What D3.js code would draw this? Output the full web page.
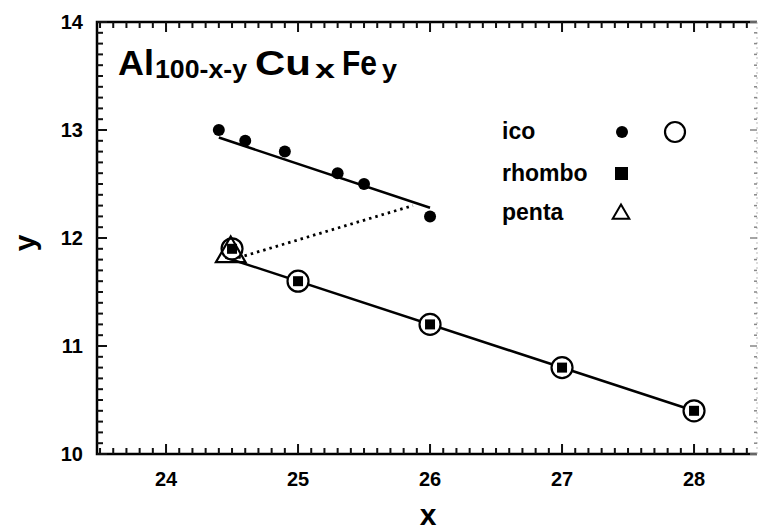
<!DOCTYPE html>
<html>
<head>
<meta charset="utf-8">
<script src="https://cdn.jsdelivr.net/npm/d3@7"></script>
<style>
  body { margin: 0; background: #fff; }
  text { font-family: "Liberation Sans", Arial, sans-serif; fill: #000; }
</style>
</head>
<body>
<script>
// data
const icoX = [24.4, 24.6, 24.9, 25.3, 25.5, 26.0];
const icoY = [13.0, 12.9, 12.8, 12.6, 12.5, 12.2];
const rhomboX = [24.5, 25, 26, 27, 28];
const rhomboY = [11.9, 11.6, 11.2, 10.8, 10.4];
const pentaX = [24.49];
const pentaY = [11.855];
const icoFit = [[24.4, 12.93], [26.0, 12.28]];
const lowerFit = [[24.45, 11.82], [28.0, 10.4]];
const linkLine = [[24.5, 11.8], [25.87, 12.3]];
const xTicks = [24, 25, 26, 27, 28];
const yTicks = [10, 11, 12, 13, 14];

const W = 759, H = 530;
const mLeft = 97, mRight = 757, mTop = 22, mBottom = 454;

const svg = d3.select("body").append("svg")
  .attr("width", W)
  .attr("height", H);

const x = d3.scaleLinear().domain([23.477, 28.477]).range([mLeft, mRight]);
const y = d3.scaleLinear().domain([10, 14]).range([mBottom, mTop]);

// minor ticks every 0.1
const xMinor = d3.range(235, 285).map(d => d / 10);
const yMinor = d3.range(100, 141).map(d => d / 10);
const isMajor = d => Math.abs(d - Math.round(d)) < 1e-6;
const tickLen = d => isMajor(d) ? 10 : 6;

// frame
svg.append("path")
  .attr("d", `M${mRight},${mTop}H${mLeft}V${mBottom}H${mRight}`)
  .attr("fill", "none").attr("stroke", "#000").attr("stroke-width", 2.5);

// right border, faint
svg.append("path")
  .attr("d", `M${mRight},${mTop}V${mBottom}`)
  .attr("stroke", "#bbb").attr("stroke-width", 1).attr("stroke-dasharray", "2 3");

// tick marks as small filled bars, inward on bottom, top and left
const tk = svg.append("g").attr("fill", "#111");
tk.selectAll(".tb").data(xMinor).join("rect").attr("class", "tb")
  .attr("x", d => x(d) - 1).attr("width", 2)
  .attr("y", d => mBottom - tickLen(d)).attr("height", d => tickLen(d));
tk.selectAll(".tt").data(xMinor).join("rect").attr("class", "tt")
  .attr("x", d => x(d) - 1).attr("width", 2)
  .attr("y", mTop).attr("height", d => tickLen(d));
tk.selectAll(".tl").data(yMinor).join("rect").attr("class", "tl")
  .attr("y", d => y(d) - 1).attr("height", 2)
  .attr("x", mLeft).attr("width", d => tickLen(d));
tk.selectAll(".tr").data(yMinor).join("rect").attr("class", "tr")
  .attr("y", d => y(d) - 0.75).attr("height", 1.5)
  .attr("x", d => mRight - (isMajor(d) ? 7 : 3)).attr("width", d => isMajor(d) ? 7 : 3)
  .attr("fill", "#888");

// tick labels
svg.append("g").selectAll("text").data(xTicks).join("text")
  .attr("x", d => x(d)).attr("y", mBottom + 32)
  .attr("text-anchor", "middle")
  .attr("font-size", 20).attr("font-weight", "bold")
  .text(d3.format("d"));
svg.append("g").selectAll("text").data(yTicks).join("text")
  .attr("x", mLeft - 14).attr("y", d => y(d))
  .attr("dy", "0.36em")
  .attr("text-anchor", "end")
  .attr("font-size", 20).attr("font-weight", "bold")
  .text(d3.format("d"));

// axis titles
svg.append("text")
  .attr("transform", `translate(24,243) rotate(-90)`)
  .attr("text-anchor", "middle").attr("dominant-baseline", "central")
  .attr("font-size", 30).attr("font-weight", "bold")
  .text("y");
svg.append("text")
  .attr("x", 428).attr("y", 525)
  .attr("text-anchor", "middle")
  .attr("font-size", 30).attr("font-weight", "bold")
  .text("x");

// formula title, each piece stretched to the width seen in the picture
const titleParts = [
  { t: "Al", x: 118, w: 36, big: true },
  { t: "100-x-y", x: 155, w: 92, big: false },
  { t: "Cu", x: 255, w: 56, big: true },
  { t: "x", x: 315, w: 20, big: false },
  { t: "Fe", x: 342, w: 35, big: true },
  { t: "y", x: 382, w: 15, big: false }
];
svg.append("g").selectAll("text")
  .data(titleParts)
  .join("text")
  .attr("x", d => d.x)
  .attr("y", d => d.big ? 75 : 78)
  .attr("font-size", d => d.big ? 35 : 25)
  .attr("font-weight", "bold")
  .attr("textLength", d => d.w)
  .attr("lengthAdjust", "spacingAndGlyphs")
  .text(d => d.t);

const line = d3.line().x(d => x(d[0])).y(d => y(d[1]));

// fitted lines
svg.append("path").attr("d", line(icoFit))
  .attr("fill", "none").attr("stroke", "#000").attr("stroke-width", 2.5);
svg.append("path").attr("d", line(lowerFit))
  .attr("fill", "none").attr("stroke", "#000").attr("stroke-width", 2.5);
svg.append("path").attr("d", line(linkLine))
  .attr("fill", "none").attr("stroke", "#000").attr("stroke-width", 2.8)
  .attr("stroke-dasharray", "2.5 4");

// ico filled dots
svg.append("g").selectAll("circle")
  .data(d3.zip(icoX, icoY))
  .join("circle")
  .attr("cx", d => x(d[0])).attr("cy", d => y(d[1]))
  .attr("r", 6).attr("fill", "#000");

// ico open circles around rhombo points
svg.append("g").selectAll("circle")
  .data(d3.zip(rhomboX, rhomboY))
  .join("circle")
  .attr("cx", d => x(d[0])).attr("cy", d => y(d[1]))
  .attr("r", 10.5).attr("fill", "#fff").attr("stroke", "#000").attr("stroke-width", 2.2);

// rhombo squares
svg.append("g").selectAll("rect")
  .data(d3.zip(rhomboX, rhomboY))
  .join("rect")
  .attr("x", d => x(d[0]) - 5).attr("y", d => y(d[1]) - 5)
  .attr("width", 10).attr("height", 10).attr("fill", "#000");

// penta triangle
svg.append("g").selectAll("path")
  .data(d3.zip(pentaX, pentaY))
  .join("path")
  .attr("transform", d => `translate(${x(d[0])},${y(d[1])})`)
  .attr("d", d3.symbol(d3.symbolTriangle, 380))
  .attr("fill", "none").attr("stroke", "#000").attr("stroke-width", 2.2);

// legend
const legend = svg.append("g");
legend.append("text").attr("x", 502).attr("y", 139).attr("font-size", 23).attr("font-weight", "bold").text("ico");
legend.append("text").attr("x", 502).attr("y", 181).attr("font-size", 23).attr("font-weight", "bold").text("rhombo");
legend.append("text").attr("x", 502).attr("y", 220).attr("font-size", 23).attr("font-weight", "bold").text("penta");
legend.append("circle").attr("cx", 622).attr("cy", 132).attr("r", 6).attr("fill", "#000");
legend.append("circle").attr("cx", 675).attr("cy", 132).attr("r", 10).attr("fill", "none")
  .attr("stroke", "#000").attr("stroke-width", 2.2);
legend.append("rect").attr("x", 615).attr("y", 167).attr("width", 13).attr("height", 13).attr("fill", "#000");
legend.append("path").attr("transform", "translate(621,214)")
  .attr("d", d3.symbol(d3.symbolTriangle, 120))
  .attr("fill", "none").attr("stroke", "#000").attr("stroke-width", 2);
</script>
</body>
</html>
